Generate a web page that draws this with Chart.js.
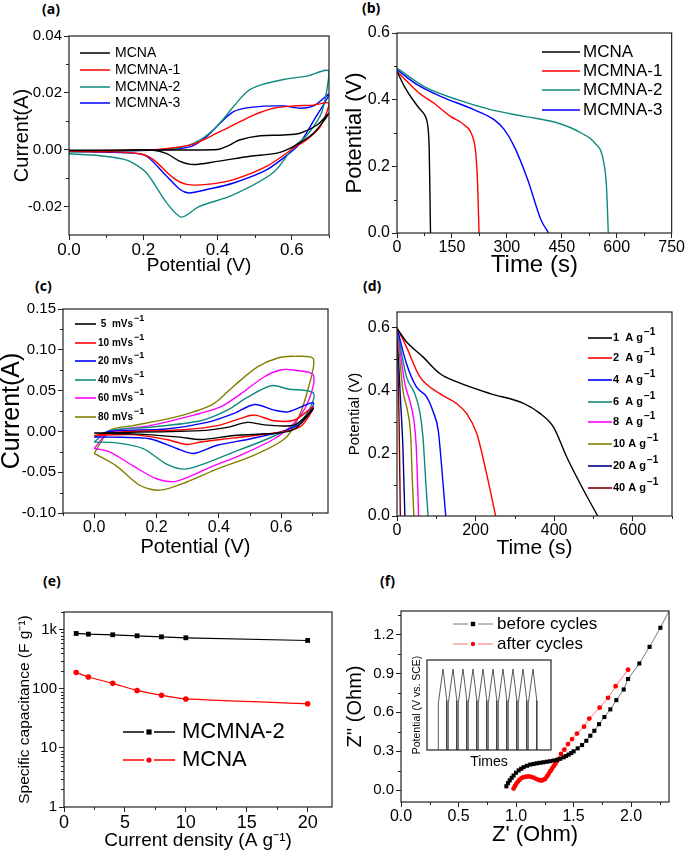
<!DOCTYPE html>
<html>
<head>
<meta charset="utf-8">
<script src="https://cdn.jsdelivr.net/npm/chart.js@4.4.1/dist/chart.umd.min.js"></script>
<style>
  body { margin: 0; background: #fff; }
  #wrap { position: relative; width: 685px; height: 850px; overflow: hidden; background: #fff; }
  #wrap canvas { position: absolute; }
  .lab { position: absolute; font: bold 14px "Open Sans", "DejaVu Sans", sans-serif; line-height: 16px; color: #000; }
</style>
</head>
<body>
<div id="wrap">
  <div class="lab" style="left:42px;top:1px;">(a)</div>
  <div class="lab" style="left:362px;top:0px;">(b)</div>
  <div class="lab" style="left:35px;top:278px;">(c)</div>
  <div class="lab" style="left:363px;top:278px;">(d)</div>
  <div class="lab" style="left:43px;top:573px;">(e)</div>
  <div class="lab" style="left:380px;top:573px;">(f)</div>
  <canvas id="ca" width="340" height="255" style="left:0;top:25px;"></canvas>
  <canvas id="cb" width="345" height="260" style="left:340px;top:20px;"></canvas>
  <canvas id="cc" width="340" height="275" style="left:0;top:295px;"></canvas>
  <canvas id="cd" width="345" height="275" style="left:340px;top:295px;"></canvas>
  <canvas id="ce" width="340" height="250" style="left:0;top:600px;"></canvas>
  <canvas id="cf" width="345" height="250" style="left:340px;top:600px;"></canvas>
  <canvas id="ci" width="150" height="127" style="left:405px;top:645px;"></canvas>
</div>
<script>
// ===== (a) CV curves, 4 samples (closed loops: anodic then cathodic) =====
var A_X_MCNA  = [0, 0.2, 0.4, 0.425, 0.461, 0.515, 0.578, 0.622, 0.668, 0.7, 0.658, 0.605, 0.56, 0.488, 0.398, 0.335, 0.299, 0.263, 0.227, 0.1, 0];
var A_Y_MCNA  = [-0.0002, -0.0001, 0.0001, 0.0012, 0.0035, 0.0049, 0.0052, 0.0058, 0.0087, 0.0128, 0.0058, 0.0012, -0.0012, -0.0023, -0.0041, -0.0052, -0.0041, -0.0014, -0.0002, -0.0003, -0.0003];
var A_X_M1    = [0, 0.2, 0.25, 0.33, 0.398, 0.443, 0.497, 0.551, 0.605, 0.658, 0.7, 0.677, 0.64, 0.605, 0.533, 0.443, 0.371, 0.317, 0.281, 0.227, 0.191, 0.1, 0];
var A_Y_M1    = [-0.0004, -0.0001, 0.0002, 0.0018, 0.0058, 0.0087, 0.0122, 0.0146, 0.0154, 0.0157, 0.0163, 0.0082, 0.0035, 0.0006, -0.0058, -0.0105, -0.0122, -0.0122, -0.0099, -0.0035, -0.0014, -0.0007, -0.0006];
var A_X_M2    = [0, 0.2, 0.3, 0.353, 0.398, 0.443, 0.479, 0.515, 0.578, 0.64, 0.7, 0.68, 0.64, 0.605, 0.55, 0.44, 0.35, 0.303, 0.263, 0.209, 0.173, 0.146, 0.083, 0];
var A_Y_M2    = [-0.0008, -0.0002, 0.0008, 0.0035, 0.0082, 0.0152, 0.0204, 0.0227, 0.0247, 0.0259, 0.0276, 0.013, 0.005, 0.001, -0.008, -0.016, -0.020, -0.0237, -0.0187, -0.0082, -0.0047, -0.0033, -0.0021, -0.0014];
var A_X_M3    = [0, 0.25, 0.33, 0.371, 0.407, 0.443, 0.488, 0.578, 0.622, 0.66, 0.7, 0.66, 0.622, 0.605, 0.533, 0.443, 0.371, 0.323, 0.299, 0.263, 0.209, 0.173, 0];
var A_Y_M3    = [-0.0006, 0.0, 0.0012, 0.0047, 0.0093, 0.0134, 0.0149, 0.0154, 0.0146, 0.0155, 0.0195, 0.0105, 0.0023, 0.0, -0.007, -0.0117, -0.014, -0.0152, -0.014, -0.0093, -0.0023, -0.0012, -0.0006];
var A_XTICKS = [0, 0.2, 0.4, 0.6], A_XMINOR = [0.1, 0.3, 0.5, 0.7];
var A_YTICKS = [-0.02, 0, 0.02, 0.04], A_YMINOR = [-0.03, -0.01, 0.01, 0.03];

// ===== (b) discharge curves =====
var B_T_MCNA = [0, 20, 40, 60, 75, 82, 86, 88, 89.5, 91.5];
var B_V_MCNA = [0.485, 0.44, 0.405, 0.375, 0.355, 0.335, 0.3, 0.25, 0.15, 0];
var B_T_M1   = [0, 27, 60, 100, 146, 183, 206, 215, 220, 224];
var B_V_M1   = [0.485, 0.455, 0.42, 0.39, 0.35, 0.325, 0.29, 0.24, 0.15, 0];
var B_T_M2   = [0, 73, 165, 256, 348, 439, 503, 540, 563, 572, 577];
var B_V_M2   = [0.495, 0.44, 0.40, 0.37, 0.35, 0.33, 0.30, 0.27, 0.22, 0.14, 0];
var B_T_M3   = [0, 55, 119, 210, 265, 293, 320, 357, 393, 414];
var B_V_M3   = [0.49, 0.445, 0.41, 0.37, 0.34, 0.31, 0.26, 0.16, 0.04, 0];
var B_XTICKS = [0, 150, 300, 450, 600, 750], B_XMINOR = [75, 225, 375, 525, 675];
var B_YTICKS = [0, 0.2, 0.4, 0.6], B_YMINOR = [0.1, 0.3, 0.5];

// ===== (c) CV at scan rates =====
var C_X_5  = [0, 0.341, 0.427, 0.492, 0.546, 0.643, 0.703, 0.643, 0.589, 0.449, 0.341, 0.276, 0.124, 0];
var C_Y_5  = [-0.002, 0.001, 0.005, 0.011, 0.008, 0.008, 0.028, 0.003, -0.002, -0.005, -0.010, -0.007, -0.003, -0.002];
var C_X_10 = [0, 0.07, 0.286, 0.395, 0.47, 0.514, 0.578, 0.643, 0.703, 0.665, 0.611, 0.449, 0.341, 0.297, 0.232, 0.124, 0];
var C_Y_10 = [-0.005, -0.001, 0.002, 0.007, 0.016, 0.020, 0.013, 0.014, 0.030, 0.007, 0.0, -0.008, -0.013, -0.016, -0.010, -0.004, -0.005];
var C_X_20 = [0, 0.049, 0.232, 0.362, 0.449, 0.514, 0.578, 0.622, 0.703, 0.665, 0.611, 0.503, 0.395, 0.319, 0.265, 0.178, 0.049, 0];
var C_Y_20 = [-0.007, 0.0, 0.003, 0.011, 0.022, 0.033, 0.026, 0.024, 0.035, 0.011, 0.001, -0.009, -0.017, -0.027, -0.021, -0.009, -0.007, -0.007];
var C_X_40 = [0, 0.049, 0.178, 0.341, 0.427, 0.492, 0.568, 0.622, 0.703, 0.686, 0.643, 0.557, 0.449, 0.297, 0.232, 0.157, 0.07, 0];
var C_Y_40 = [-0.013, 0.001, 0.005, 0.013, 0.026, 0.042, 0.056, 0.052, 0.047, 0.024, 0.007, -0.009, -0.025, -0.046, -0.040, -0.021, -0.014, -0.013];
var C_X_60 = [0, 0.049, 0.178, 0.319, 0.405, 0.47, 0.546, 0.6, 0.643, 0.703, 0.686, 0.643, 0.578, 0.47, 0.384, 0.265, 0.2, 0.124, 0.049, 0];
var C_Y_60 = [-0.021, -0.001, 0.007, 0.020, 0.030, 0.046, 0.067, 0.0755, 0.075, 0.069, 0.036, 0.011, -0.009, -0.029, -0.042, -0.061, -0.058, -0.042, -0.025, -0.021];
var C_X_80 = [0, 0.049, 0.124, 0.232, 0.319, 0.384, 0.449, 0.524, 0.589, 0.643, 0.703, 0.686, 0.654, 0.611, 0.514, 0.395, 0.297, 0.211, 0.146, 0.07, 0];
var C_Y_80 = [-0.027, 0.001, 0.007, 0.015, 0.024, 0.034, 0.056, 0.079, 0.090, 0.092, 0.089, 0.052, 0.016, -0.009, -0.029, -0.046, -0.062, -0.072, -0.066, -0.042, -0.027];
var C_XTICKS = [0, 0.2, 0.4, 0.6], C_XMINOR = [-0.1, 0.1, 0.3, 0.5, 0.7];
var C_YTICKS = [-0.1, -0.05, 0, 0.05, 0.1, 0.15], C_YMINOR = [-0.075, -0.025, 0.025, 0.075, 0.125];

// ===== (d) discharge at current densities =====
var D_T_1  = [0, 24, 66, 109, 151, 237, 322, 364, 398, 432, 475, 511];
var D_V_1  = [0.598, 0.555, 0.507, 0.454, 0.428, 0.39, 0.359, 0.327, 0.284, 0.188, 0.082, 0];
var D_T_2  = [0, 24, 58, 109, 151, 177, 203, 228, 251];
var D_V_2  = [0.6, 0.539, 0.444, 0.39, 0.359, 0.327, 0.263, 0.135, 0];
var D_T_4  = [0, 24, 49, 75, 92, 105, 113, 124];
var D_V_4  = [0.6, 0.486, 0.412, 0.38, 0.332, 0.273, 0.167, 0];
var D_T_6  = [0, 24, 45, 58, 66, 73, 79];
var D_V_6  = [0.6, 0.444, 0.39, 0.332, 0.252, 0.114, 0];
var D_T_8  = [0, 20, 32, 43, 49, 55];
var D_V_8  = [0.6, 0.422, 0.369, 0.305, 0.22, 0];
var D_T_10 = [0, 15, 28, 35, 39, 43];
var D_V_10 = [0.6, 0.401, 0.327, 0.252, 0.114, 0];
var D_T_20 = [0, 8.5, 15, 20];
var D_V_20 = [0.6, 0.38, 0.22, 0];
var D_T_40 = [0, 5, 8.5];
var D_V_40 = [0.6, 0.327, 0];
var D_XTICKS = [0, 200, 400, 600], D_XMINOR = [100, 300, 500, 700];
var D_YTICKS = [0, 0.2, 0.4, 0.6], D_YMINOR = [0.1, 0.3, 0.5];

// ===== (e) specific capacitance vs current density =====
var E_DENS  = [1, 2, 4, 6, 8, 10, 20];
var E_MCMNA2 = [866, 844, 823, 791, 760, 732, 659];
var E_MCNA   = [189, 159, 124, 94, 78, 67.5, 56];
var E_XTICKS = [0, 5, 10, 15, 20], E_XMINOR = [2.5, 7.5, 12.5, 17.5];
var E_YTICKS = [1, 10, 100, 1000];
var E_YMINOR = [2, 3, 4, 5, 6, 7, 8, 9, 20, 30, 40, 50, 60, 70, 80, 90, 200, 300, 400, 500, 600, 700, 800, 900, 2000];

// ===== (f) Nyquist plots =====
var F_X_BEFORE = [0.916, 0.930, 0.945, 0.962, 0.979, 1.0, 1.023, 1.045, 1.066, 1.095, 1.124, 1.153, 1.182, 1.211, 1.24, 1.269, 1.298, 1.327, 1.356, 1.385, 1.414, 1.436, 1.458, 1.48, 1.501, 1.536, 1.574, 1.611, 1.646, 1.681, 1.722, 1.768, 1.82, 1.872, 1.936, 1.974, 2.072, 2.161, 2.255, 2.36];
var F_Y_BEFORE = [0.031, 0.055, 0.076, 0.096, 0.114, 0.135, 0.153, 0.166, 0.178, 0.189, 0.198, 0.203, 0.208, 0.212, 0.216, 0.22, 0.224, 0.229, 0.234, 0.243, 0.254, 0.264, 0.275, 0.287, 0.30, 0.323, 0.348, 0.381, 0.42, 0.458, 0.509, 0.564, 0.623, 0.694, 0.776, 0.857, 0.976, 1.104, 1.251, 1.43];
var F_X_AFTER  = [0.979, 0.99, 1.003, 1.017, 1.031, 1.048, 1.066, 1.088, 1.11, 1.131, 1.153, 1.175, 1.197, 1.212, 1.226, 1.24, 1.255, 1.27, 1.284, 1.298, 1.313, 1.327, 1.342, 1.356, 1.371, 1.391, 1.42, 1.452, 1.487, 1.53, 1.591, 1.637, 1.727, 1.80, 1.866, 1.974];
var F_Y_AFTER  = [0.013, 0.032, 0.051, 0.067, 0.082, 0.094, 0.101, 0.105, 0.107, 0.103, 0.097, 0.088, 0.08, 0.076, 0.076, 0.082, 0.089, 0.108, 0.127, 0.147, 0.166, 0.185, 0.204, 0.223, 0.242, 0.28, 0.313, 0.356, 0.394, 0.437, 0.49, 0.552, 0.636, 0.712, 0.801, 0.928];
var F_XTICKS = [0, 0.5, 1.0, 1.5, 2.0], F_XMINOR = [0.25, 0.75, 1.25, 1.75, 2.25];
var F_YTICKS = [0, 0.3, 0.6, 0.9, 1.2], F_YMINOR = [0.15, 0.45, 0.75, 1.05, 1.35];

// inset: cycling potential vs time (arbitrary units)
var INSET_T = [1.13, 1.13, 1.6, 1.98, 1.98, 2.13, 2.13, 2.6, 2.98, 2.98, 3.13, 3.13, 3.6, 3.98, 3.98, 4.13, 4.13, 4.6, 4.98, 4.98,
               5.13, 5.13, 5.6, 5.98, 5.98, 6.13, 6.13, 6.6, 6.98, 6.98, 7.13, 7.13, 7.6, 7.98, 7.98, 8.13, 8.13, 8.6, 8.98, 8.98,
               9.13, 9.13, 9.6, 9.98, 9.98, 10.13, 10.13, 10.6, 10.98, 10.98];
var INSET_V = [0, 0.52, 0.9, 0.55, 0, 0, 0.52, 0.9, 0.55, 0, 0, 0.52, 0.9, 0.55, 0, 0, 0.52, 0.9, 0.55, 0,
               0, 0.52, 0.9, 0.55, 0, 0, 0.52, 0.9, 0.55, 0, 0, 0.52, 0.9, 0.55, 0, 0, 0.52, 0.9, 0.55, 0,
               0, 0.52, 0.9, 0.55, 0, 0, 0.52, 0.9, 0.55, 0];

var FONT = '"Liberation Sans", Arial, sans-serif';
var BLACK = "#000000", RED = "#ff0000", TEAL = "#108a80", BLUE = "#0000ff",
    MAGENTA = "#ff00ff", OLIVE = "#808000", NAVY = "#000080", WINE = "#800000";

// frame around plot + minor ticks
var framePlugin = {
  id: "frame",
  afterDraw: function (chart, args, o) {
    var ctx = chart.ctx, a = chart.chartArea;
    ctx.save();
    ctx.strokeStyle = "#222";
    ctx.lineWidth = 1.2;
    ctx.strokeRect(a.left, a.top, a.right - a.left, a.bottom - a.top);
    ctx.lineWidth = 1;
    ctx.beginPath();
    (o.minorX || []).forEach(function (v) {
      var px = Math.round(chart.scales.x.getPixelForValue(v)) + 0.5;
      ctx.moveTo(px, a.bottom); ctx.lineTo(px, a.bottom + 3);
    });
    (o.minorY || []).forEach(function (v) {
      var py = Math.round(chart.scales.y.getPixelForValue(v)) + 0.5;
      if (py < a.top || py > a.bottom) return;
      ctx.moveTo(a.left, py); ctx.lineTo(a.left - 3, py);
    });
    ctx.stroke();
    ctx.restore();
  }
};

// legend drawn inside the plot at given spots
var legendPlugin = {
  id: "pLegend",
  afterDraw: function (chart, args, o) {
    if (!o || !o.ys) return;
    var ctx = chart.ctx;
    ctx.save();
    chart.data.datasets.forEach(function (ds, i) {
      var y = o.ys[i];
      if (y == null) return;
      ctx.strokeStyle = ds.borderColor;
      ctx.lineWidth = o.lw || 1.5;
      ctx.beginPath();
      if (o.marker) {
        var mid = (o.x1 + o.x2) / 2;
        ctx.moveTo(o.x1, y); ctx.lineTo(mid - o.gap, y);
        ctx.moveTo(mid + o.gap, y); ctx.lineTo(o.x2, y);
        ctx.stroke();
        ctx.fillStyle = ds.pointBackgroundColor || ds.borderColor;
        ctx.beginPath();
        if (ds.pointStyle === "rect") {
          ctx.rect(mid - o.mr, y - o.mr, o.mr * 2, o.mr * 2);
        } else {
          ctx.arc(mid, y, o.mr, 0, Math.PI * 2);
        }
        ctx.fill();
      } else {
        ctx.moveTo(o.x1, y); ctx.lineTo(o.x2, y);
        ctx.stroke();
      }
      var parts = ds.label.split("^");
      ctx.fillStyle = "#000";
      ctx.font = o.font;
      ctx.textBaseline = "middle";
      ctx.fillText(parts[0], o.tx, y);
      if (parts[1]) {
        var w = ctx.measureText(parts[0]).width;
        ctx.font = o.supFont;
        ctx.fillText(parts[1], o.tx + w + 1, y - o.supRise);
      }
    });
    ctx.restore();
  }
};
Chart.register(framePlugin, legendPlugin);

function pts(xs, ys) {
  return xs.map(function (x, i) { return { x: x, y: ys[i] }; });
}
function line(label, xs, ys, color, extra) {
  var d = { label: label, data: pts(xs, ys), borderColor: color, backgroundColor: color,
            borderWidth: 1.4, pointRadius: 0, showLine: true, tension: 0.3, fill: false };
  for (var k in extra) d[k] = extra[k];
  return d;
}
function axis(o) {
  return {
    type: o.type || "linear",
    position: o.pos,
    min: o.min, max: o.max,
    afterFit: function (s) { if (o.pos === "left") s.width = o.size; else s.height = o.size; },
    afterBuildTicks: function (s) { s.ticks = o.ticks.map(function (v) { return { value: v }; }); },
    grid: { drawOnChartArea: false, drawTicks: true, tickLength: 5, color: "#222", lineWidth: 1 },
    border: { display: false },
    ticks: { font: { family: FONT, size: o.tickSize }, color: "#000", padding: o.pos === "left" ? 2 : 0,
             autoSkip: false, maxRotation: 0, callback: o.fmt },
    title: { display: true, text: o.title, color: "#000", font: { family: FONT, size: o.titleSize, lineHeight: 1 },
             padding: { top: o.tpad, bottom: o.tpad } }
  };
}
function fix(n) { return function (v) { return Number(v).toFixed(n); }; }
function make(id, datasets, pad, xAxis, yAxis, plugins) {
  plugins = plugins || {};
  plugins.legend = { display: false };
  plugins.tooltip = { enabled: false };
  return new Chart(document.getElementById(id), {
    type: "scatter",
    data: { datasets: datasets },
    options: {
      responsive: false, animation: false, devicePixelRatio: 1, events: [],
      layout: { padding: { top: pad[0], right: pad[1], left: 0, bottom: 0 } },
      scales: { x: xAxis, y: yAxis },
      plugins: plugins
    }
  });
}

// (a)
make("ca", [
  line("MCNA", A_X_MCNA, A_Y_MCNA, BLACK),
  line("MCMNA-1", A_X_M1, A_Y_M1, RED),
  line("MCMNA-2", A_X_M2, A_Y_M2, TEAL),
  line("MCMNA-3", A_X_M3, A_Y_M3, BLUE)
], [10, 11],
  axis({ pos: "bottom", size: 45, min: 0, max: 0.7, ticks: A_XTICKS, fmt: fix(1), tickSize: 17, title: "Potential (V)", titleSize: 19, tpad: 4.5 }),
  axis({ pos: "left", size: 69, min: -0.03, max: 0.04, ticks: A_YTICKS, fmt: fix(2), tickSize: 15, title: "Current(A)", titleSize: 20, tpad: 12 }),
  { frame: { minorX: A_XMINOR, minorY: A_YMINOR },
    pLegend: { ys: [28, 45, 62, 78], x1: 80, x2: 110, tx: 115, font: "14px " + FONT } });

// (b)
var mono = { tension: 0, cubicInterpolationMode: "monotone" };
make("cb", [
  line("MCNA", B_T_MCNA, B_V_MCNA, BLACK, mono),
  line("MCMNA-1", B_T_M1, B_V_M1, RED, mono),
  line("MCMNA-2", B_T_M2, B_V_M2, TEAL, mono),
  line("MCMNA-3", B_T_M3, B_V_M3, BLUE, mono)
], [13, 13],
  axis({ pos: "bottom", size: 47, min: 0, max: 750, ticks: B_XTICKS, fmt: fix(0), tickSize: 16, title: "Time (s)", titleSize: 24, tpad: 2.5 }),
  axis({ pos: "left", size: 57, min: 0, max: 0.6, ticks: B_YTICKS, fmt: fix(1), tickSize: 16, title: "Potential (V)", titleSize: 22, tpad: 4 }),
  { frame: { minorX: B_XMINOR, minorY: B_YMINOR },
    pLegend: { ys: [32, 51, 70, 90], x1: 202, x2: 240, tx: 243, font: "17px " + FONT } });

// (c)
make("cc", [
  line(" 5  mVs^\u22121", C_X_5, C_Y_5, BLACK),
  line("10 mVs^\u22121", C_X_10, C_Y_10, RED),
  line("20 mVs^\u22121", C_X_20, C_Y_20, BLUE),
  line("40 mVs^\u22121", C_X_40, C_Y_40, TEAL),
  line("60 mVs^\u22121", C_X_60, C_Y_60, MAGENTA),
  line("80 mVs^\u22121", C_X_80, C_Y_80, OLIVE)
], [14, 12],
  axis({ pos: "bottom", size: 57, min: -0.1, max: 0.75, ticks: C_XTICKS, fmt: fix(1), tickSize: 16, title: "Potential (V)", titleSize: 20, tpad: 13 }),
  axis({ pos: "left", size: 63, min: -0.1, max: 0.15, ticks: C_YTICKS, fmt: fix(2), tickSize: 15, title: "Current(A)", titleSize: 25, tpad: 0 }),
  { frame: { minorX: C_XMINOR, minorY: C_YMINOR },
    pLegend: { ys: [29, 48, 66, 85, 103, 122], x1: 75, x2: 96, tx: 98, lw: 1.6,
               font: "bold 10px " + FONT, supFont: "bold 9px " + FONT, supRise: 5 } });

// (d)
make("cd", [
  line("1  A g^\u22121", D_T_1, D_V_1, BLACK, mono),
  line("2  A g^\u22121", D_T_2, D_V_2, RED, mono),
  line("4  A g^\u22121", D_T_4, D_V_4, BLUE, mono),
  line("6  A g^\u22121", D_T_6, D_V_6, TEAL, mono),
  line("8  A g^\u22121", D_T_8, D_V_8, MAGENTA, mono),
  line("10 A g^\u22121", D_T_10, D_V_10, OLIVE, mono),
  line("20 A g^\u22121", D_T_20, D_V_20, NAVY, mono),
  line("40 A g^\u22121", D_T_40, D_V_40, WINE, mono)
], [17, 13],
  axis({ pos: "bottom", size: 54, min: 0, max: 700, ticks: D_XTICKS, fmt: fix(0), tickSize: 16, title: "Time (s)", titleSize: 21, tpad: 11.5 }),
  axis({ pos: "left", size: 57, min: 0, max: 0.65, ticks: D_YTICKS, fmt: fix(1), tickSize: 16, title: "Potential (V)", titleSize: 15, tpad: 7.5 }),
  { frame: { minorX: D_XMINOR, minorY: D_YMINOR },
    pLegend: { ys: [43, 63, 85, 107, 127, 149, 171, 193], x1: 248, x2: 272, tx: 273, lw: 1.6,
               font: "bold 11px " + FONT, supFont: "bold 10px " + FONT, supRise: 6 } });

// (e)
make("ce", [
  line("MCMNA-2", E_DENS, E_MCMNA2, BLACK, { tension: 0, borderWidth: 1.2, pointStyle: "rect", pointRadius: 3.4, pointBackgroundColor: BLACK, pointBorderWidth: 0 }),
  line("MCNA", E_DENS, E_MCNA, RED, { tension: 0.2, borderWidth: 1.2, pointStyle: "circle", pointRadius: 2.8, pointBackgroundColor: RED, pointBorderWidth: 0 })
], [12, 8],
  axis({ pos: "bottom", size: 43, min: 0, max: 22, ticks: E_XTICKS, fmt: fix(0), tickSize: 18, title: "Current density (A g\u207B\u00B9)", titleSize: 19, tpad: 0 }),
  axis({ pos: "left", type: "logarithmic", size: 64, min: 1, max: 2000, ticks: E_YTICKS, tickSize: 15,
         fmt: function (v) { return v >= 1000 ? (v / 1000) + "k" : String(v); },
         title: "Specific capacitance (F g\u207B\u00B9)", titleSize: 15.5, tpad: 17 }),
  { frame: { minorX: E_XMINOR, minorY: E_YMINOR },
    pLegend: { ys: [132, 160], x1: 123, x2: 175, tx: 182, marker: true, gap: 5, mr: 2.6, lw: 1.5, font: "22px " + FONT } });

// (f)
make("cf", [
  line("before cycles", F_X_BEFORE, F_Y_BEFORE, "#555555", { tension: 0, borderWidth: 0.8, clip: 0, pointStyle: "rect", pointRadius: 2.9, pointBackgroundColor: BLACK, pointBorderWidth: 0 }),
  line("after cycles", F_X_AFTER, F_Y_AFTER, "#ff5050", { tension: 0, borderWidth: 0.8, clip: 0, pointStyle: "circle", pointRadius: 2.4, pointBackgroundColor: RED, pointBorderWidth: 0 })
], [9, 16],
  axis({ pos: "bottom", size: 48, min: 0, max: 2.33, ticks: F_XTICKS, fmt: fix(1), tickSize: 16, title: "Z' (Ohm)", titleSize: 22, tpad: 4 }),
  axis({ pos: "left", size: 61, min: -0.09, max: 1.38, ticks: F_YTICKS, fmt: fix(1), tickSize: 15, title: "Z'' (Ohm)", titleSize: 20, tpad: 5 }),
  { frame: { minorX: F_XMINOR, minorY: F_YMINOR },
    pLegend: { ys: [24, 44], x1: 113, x2: 153, tx: 157, marker: true, gap: 5, mr: 2.2, lw: 0.8, font: "17px " + FONT } });

// inset
new Chart(document.getElementById("ci"), {
  type: "scatter",
  data: { datasets: [ line("cycles", INSET_T, INSET_V, "#333333", { tension: 0, borderWidth: 0.8 }) ] },
  options: {
    responsive: false, animation: false, devicePixelRatio: 1, events: [],
    layout: { padding: { top: 15, right: 4, left: 0, bottom: 0 } },
    scales: {
      x: { min: 0, max: 12.4, grid: { display: false }, border: { display: false }, ticks: { display: false },
           afterFit: function (s) { s.height = 22; },
           title: { display: true, text: "Times", color: "#000", font: { family: FONT, size: 14, lineHeight: 1 }, padding: { top: 3, bottom: 3 } } },
      y: { min: 0, max: 1, grid: { display: false }, border: { display: false }, ticks: { display: false },
           afterFit: function (s) { s.width = 22; },
           title: { display: true, text: "Potential (V vs. SCE)", color: "#000", font: { family: FONT, size: 10.5, lineHeight: 1 }, padding: { top: 6.5, bottom: 6.5 } } }
    },
    plugins: { legend: { display: false }, tooltip: { enabled: false } }
  }
});
</script>
</body>
</html>
